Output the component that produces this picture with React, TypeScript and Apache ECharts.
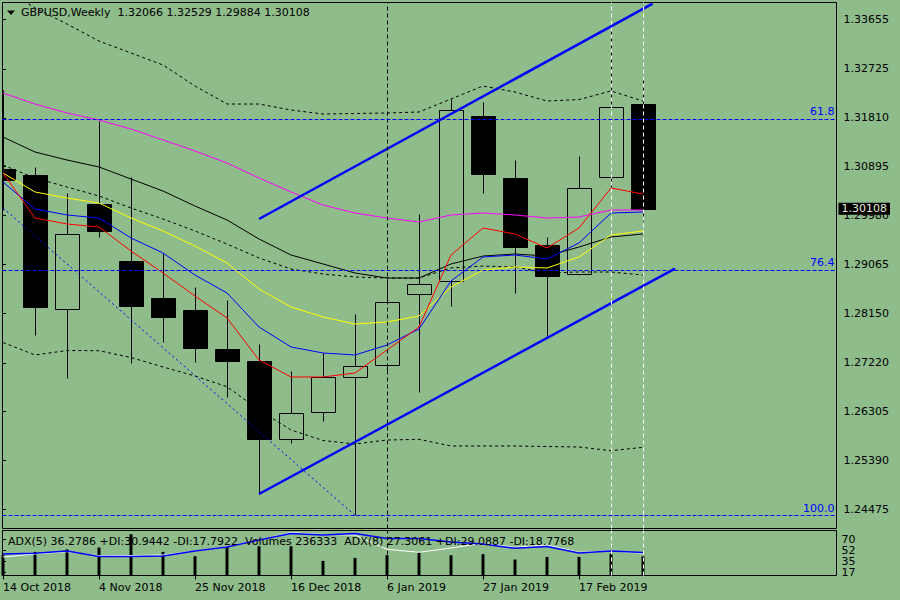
import React, { useEffect, useRef } from 'react';
import * as echarts from 'echarts';

// ---- data ----
const weeks = ['14 Oct 2018','21 Oct 2018','28 Oct 2018','4 Nov 2018','11 Nov 2018','18 Nov 2018','25 Nov 2018','2 Dec 2018','9 Dec 2018','16 Dec 2018','23 Dec 2018','30 Dec 2018','6 Jan 2019','13 Jan 2019','20 Jan 2019','27 Jan 2019','3 Feb 2019','10 Feb 2019','17 Feb 2019','24 Feb 2019','3 Mar 2019'];
const dateTickIdx = [0, 3, 6, 9, 12, 15, 18];

const opens = [1.30850,1.30738,1.28233,1.30195,1.29127,1.28428,1.28209,1.27478,1.27253,1.25786,1.26292,1.26948,1.27173,1.28503,1.28758,1.31843,1.30676,1.29427,1.28878,1.30695,1.32066];
const highs = [1.32330,1.30882,1.30395,1.31755,1.30706,1.29271,1.28634,1.28396,1.27572,1.27066,1.27397,1.28134,1.28771,1.30007,1.32162,1.32111,1.31019,1.29576,1.31094,1.33516,1.32529];
const lows = [1.30082,1.27740,1.26940,1.29571,1.27221,1.27615,1.27240,1.26573,1.24761,1.25723,1.26135,1.24362,1.27047,1.26678,1.28289,1.30406,1.28533,1.27697,1.28870,1.30508,1.29884];
const closes = [1.30644,1.28271,1.29627,1.29694,1.28289,1.28083,1.27491,1.27259,1.25797,1.26273,1.26948,1.27160,1.28353,1.28690,1.31956,1.30762,1.29395,1.28851,1.30489,1.32006,1.30108];

const maMagenta = [1.32274,1.32068,1.31900,1.31768,1.31600,1.31394,1.31188,1.30963,1.30682,1.30420,1.30176,1.30026,1.29932,1.29857,1.29989,1.30026,1.29989,1.29932,1.29951,1.30082,1.30082];
const maBlack = [1.31450,1.31169,1.31019,1.30888,1.30663,1.30438,1.30157,1.29895,1.29539,1.29239,1.29071,1.28902,1.28808,1.28808,1.29071,1.29220,1.29258,1.29220,1.29389,1.29576,1.29633];
const maYellow = [1.30775,1.30420,1.30307,1.30213,1.29932,1.29689,1.29408,1.29089,1.28602,1.28265,1.28078,1.27946,1.27984,1.28096,1.28640,1.28958,1.29014,1.28996,1.29202,1.29614,1.29689];
const maBlue = [1.30607,1.30101,1.29989,1.29932,1.29558,1.29277,1.28864,1.28527,1.27890,1.27516,1.27403,1.27366,1.27553,1.27853,1.28752,1.29202,1.29239,1.29164,1.29464,1.30026,1.30045];
const maRed = [1.30775,1.29932,1.29820,1.29764,1.29314,1.28902,1.28471,1.28059,1.27272,1.26954,1.26954,1.27028,1.27459,1.27890,1.29239,1.29745,1.29633,1.29370,1.29745,1.30494,1.30382];
const bbMid = [1.30925,1.30682,1.30513,1.30345,1.30120,1.29914,1.29689,1.29445,1.29183,1.28977,1.28883,1.28827,1.28808,1.28808,1.28996,1.29033,1.29014,1.28902,1.28921,1.28921,1.28864];
const bbUpper = [1.34241,1.33867,1.33567,1.33248,1.33024,1.32799,1.32405,1.32068,1.32068,1.31956,1.31881,1.31890,1.31900,1.31918,1.32162,1.32405,1.32293,1.32124,1.32152,1.32312,1.32124];
const bbLower = [1.27600,1.27366,1.27450,1.27446,1.27319,1.27141,1.26972,1.26772,1.26335,1.25961,1.25764,1.25698,1.25773,1.25786,1.25661,1.25661,1.25661,1.25651,1.25642,1.25573,1.25636];

const channelUpper = [[8, 1.29914], [20.3, 1.33950]];
const channelLower = [[8, 1.24761], [21, 1.28983]];
const fiboTrend = [[0, 1.30120], [11, 1.24362]];
const fiboLevels = ['61.8', '76.4', '100.0'];
const fiboPrices = [1.31787, 1.28953, 1.24357];

const priceTicks = [1.33655, 1.32725, 1.31810, 1.30895, 1.29980, 1.29065, 1.28150, 1.27220, 1.26305, 1.25390, 1.24475];

const adxMain = [46.7,47.8,51.4,42.7,42.7,43.5,51.4,57.8,68.9,79.2,76.8,79.2,71.3,71.3,65.7,62.5,55.7,58.6,48.3,51.4,49.0];
const adxSignal = [41.9,46.7,50.3,44.0,44.3,45.1,51.4,58.3,68.9,80.5,77.6,76.8,54.1,49.4,56.2,63.7,57.3,61.0,49.4,51.4,47.8];
const volumes = [250000,291000,321000,345000,509000,291000,238000,353000,361000,361000,180000,217000,250000,287000,250000,263000,197000,229000,229000,271000,236333];
const indTicks = [17, 35, 52, 70];

const blackVLines = [12];
const whiteVLines = [19, 20];

const headerText = 'GBPUSD,Weekly\u00A0\u00A0' + [opens[20], highs[20], lows[20], closes[20]].map((v) => v.toFixed(5)).join(' ');
const indicatorText = 'ADX(5) 36.2786 +DI:30.9442 -DI:17.7922\u00A0\u00A0Volumes 236333\u00A0\u00A0ADX(8) 27.3061 +DI:29.0887 -DI:18.7768';

const FONT = 'DejaVu Sans';
const X_MIN = -0.015625;
const X_MAX = 26.046875;

function lineSeries(data: number[], color: string, dash?: number[], width = 1, z = 3) {
  return {
    type: 'line',
    xAxisIndex: 0,
    yAxisIndex: 0,
    data: data.map((v, i) => [i, v]),
    showSymbol: false,
    symbol: 'none',
    silent: true,
    z,
    lineStyle: { color, width, type: dash || 'solid' },
  };
}

function buildOption() {
  const candleData = opens.map((o, i) => [i, o, closes[i], lows[i], highs[i]]);
  return {
    animation: false,
    backgroundColor: '#8FBC8B',
    textStyle: { fontFamily: FONT, fontSize: 11 },
    title: [
      { text: headerText, left: 21, top: 7, padding: 0, textStyle: { fontFamily: FONT, fontSize: 11, fontWeight: 'normal', color: '#000' } },
      { text: indicatorText, left: 8, top: 536, padding: 0, z: 20, textStyle: { fontFamily: FONT, fontSize: 11, fontWeight: 'normal', color: '#000' } },
    ],
    graphic: [
      { type: 'polygon', shape: { points: [[7, 10.5], [15, 10.5], [11, 15]] }, style: { fill: '#000' } },
    ],
    grid: [
      { left: 2.5, top: 2.5, width: 834, height: 526, show: true, borderColor: '#000', borderWidth: 1, backgroundColor: 'transparent' },
      { left: 2.5, top: 530.5, width: 834, height: 45, show: true, borderColor: '#000', borderWidth: 1, backgroundColor: 'transparent' },
    ],
    xAxis: [
      { type: 'value', gridIndex: 0, min: X_MIN, max: X_MAX, show: false },
      {
        type: 'value', gridIndex: 1, min: X_MIN, max: X_MAX,
        axisLine: { show: false },
        splitLine: { show: false },
        axisTick: { show: true, length: 4, lineStyle: { color: '#000' }, customValues: dateTickIdx },
        axisLabel: {
          customValues: dateTickIdx, align: 'left', margin: 6, color: '#000', fontFamily: FONT, fontSize: 11,
          formatter: (v: number) => weeks[Math.round(v)] || '',
        },
      },
    ],
    yAxis: [
      {
        type: 'value', gridIndex: 0, position: 'right', min: 1.24115, max: 1.33970,
        axisLine: { show: false },
        splitLine: { show: false },
        axisTick: { show: true, length: 3, lineStyle: { color: '#000' }, customValues: priceTicks },
        axisLabel: { customValues: priceTicks, margin: 7, color: '#000', fontFamily: FONT, fontSize: 11, formatter: (v: number) => v.toFixed(5) },
      },
      {
        type: 'value', gridIndex: 1, position: 'right', min: 12.54, max: 83.97,
        axisLine: { show: false },
        splitLine: { show: false },
        axisTick: { show: true, length: 3, lineStyle: { color: '#000' }, customValues: indTicks },
        axisLabel: { customValues: indTicks, margin: 5, color: '#000', fontFamily: FONT, fontSize: 11 },
      },
      { type: 'value', gridIndex: 1, min: 0, max: 555000, show: false },
    ],
    series: [
      // vertical object lines + fibo levels (below candles)
      {
        type: 'line', xAxisIndex: 0, yAxisIndex: 0, data: [], z: 1, silent: true,
        markLine: {
          symbol: ['none', 'none'], silent: true, animation: false, precision: 5,
          data: [
            ...blackVLines.map((x) => ({ xAxis: x, lineStyle: { color: '#000', type: [4, 3], width: 1 }, label: { show: false } })),
            ...whiteVLines.map((x) => ({ xAxis: x, lineStyle: { color: '#FFFFFF', type: [4, 3], width: 1 }, label: { show: false } })),
            ...fiboPrices.map((p, k) => ({
              yAxis: p,
              lineStyle: { color: '#0000FF', type: [4, 2], width: 1 },
              label: { show: true, formatter: fiboLevels[k], position: 'insideEndTop', distance: [2, 2], color: '#0000FF', fontFamily: FONT, fontSize: 11 },
            })),
          ],
        },
      },
      {
        type: 'line', xAxisIndex: 1, yAxisIndex: 1, data: [], z: 1, silent: true,
        markLine: {
          symbol: ['none', 'none'], silent: true, animation: false, precision: 5, label: { show: false },
          data: [
            ...blackVLines.map((x) => ({ xAxis: x, lineStyle: { color: '#000', type: [4, 3], width: 1 } })),
            ...whiteVLines.map((x) => ({ xAxis: x, lineStyle: { color: '#FFFFFF', type: [4, 3], width: 1 } })),
          ],
        },
      },
      // candles
      {
        type: 'custom', xAxisIndex: 0, yAxisIndex: 0, z: 2, clip: true, silent: true,
        data: candleData,
        encode: { x: 0, y: [1, 2, 3, 4] },
        renderItem: (params: any, api: any) => {
          const i = api.value(0);
          const o = api.value(1);
          const c = api.value(2);
          const l = api.value(3);
          const h = api.value(4);
          const pO = api.coord([i, o]);
          const pC = api.coord([i, c]);
          const pL = api.coord([i, l]);
          const pH = api.coord([i, h]);
          const x = Math.round(pO[0]) + 0.5;
          const yTop = Math.round(Math.min(pO[1], pC[1])) + 0.5;
          const yBot = Math.round(Math.max(pO[1], pC[1])) + 0.5;
          const yH = Math.round(pH[1]) + 0.5;
          const yL = Math.round(pL[1]) + 0.5;
          const bull = c >= o;
          return {
            type: 'group',
            children: [
              { type: 'line', shape: { x1: x, y1: yH, x2: x, y2: yTop }, style: { stroke: '#000', lineWidth: 1 } },
              { type: 'line', shape: { x1: x, y1: yBot, x2: x, y2: yL }, style: { stroke: '#000', lineWidth: 1 } },
              { type: 'rect', shape: { x: x - 12, y: yTop, width: 24, height: Math.max(yBot - yTop, 1) }, style: { fill: bull ? 'none' : '#000', stroke: '#000', lineWidth: 1 } },
            ],
          };
        },
      },
      // bands and averages
      lineSeries(bbUpper, '#000', [3, 3]),
      lineSeries(bbMid, '#000', [3, 3]),
      lineSeries(bbLower, '#000', [3, 3]),
      lineSeries(maMagenta, '#FF00FF'),
      lineSeries(maBlack, '#000'),
      lineSeries(maYellow, '#FFFF00'),
      lineSeries(maBlue, '#0000FF'),
      lineSeries(maRed, '#FF0000'),
      // trend objects
      { type: 'line', xAxisIndex: 0, yAxisIndex: 0, data: fiboTrend, showSymbol: false, symbol: 'none', silent: true, z: 4, lineStyle: { color: '#0000FF', width: 1, type: [2, 3] } },
      { type: 'line', xAxisIndex: 0, yAxisIndex: 0, data: channelUpper, showSymbol: false, symbol: 'none', silent: true, z: 4, lineStyle: { color: '#0000FF', width: 2.5 } },
      { type: 'line', xAxisIndex: 0, yAxisIndex: 0, data: channelLower, showSymbol: false, symbol: 'none', silent: true, z: 4, lineStyle: { color: '#0000FF', width: 2.5 } },
      // current price box
      {
        type: 'line', xAxisIndex: 0, yAxisIndex: 0, data: [], z: 10, silent: true,
        markLine: {
          symbol: ['none', 'none'], silent: true, animation: false, precision: 5,
          data: [{
            yAxis: closes[20],
            lineStyle: { color: 'rgba(0,0,0,0)', width: 0 },
            label: { show: true, position: 'end', distance: 2, formatter: closes[20].toFixed(5), backgroundColor: '#000', color: '#E4EBD8', padding: [1, 3, 0, 3], fontFamily: FONT, fontSize: 11 },
          }],
        },
      },
      // indicator window
      { type: 'bar', xAxisIndex: 1, yAxisIndex: 2, data: volumes.map((v, i) => [i, v]), barWidth: 3, itemStyle: { color: '#000' }, silent: true, z: 2 },
      { type: 'line', xAxisIndex: 1, yAxisIndex: 1, data: adxSignal.map((v, i) => [i, v]), showSymbol: false, symbol: 'none', silent: true, z: 3, lineStyle: { color: '#FFFFFF', width: 1 } },
      { type: 'line', xAxisIndex: 1, yAxisIndex: 1, data: adxMain.map((v, i) => [i, v]), showSymbol: false, symbol: 'none', silent: true, z: 4, lineStyle: { color: '#0000FF', width: 1.5 } },
    ],
  };
}

export default function App() {
  const ref = useRef<HTMLDivElement>(null);
  useEffect(() => {
    document.body.style.margin = '0';
    const chart = echarts.init(ref.current as HTMLDivElement, null, { renderer: 'svg' });
    chart.setOption(buildOption() as any);
    return () => chart.dispose();
  }, []);
  return <div ref={ref} style={{ position: 'absolute', left: 0, top: 0, width: 900, height: 600 }} />;
}
